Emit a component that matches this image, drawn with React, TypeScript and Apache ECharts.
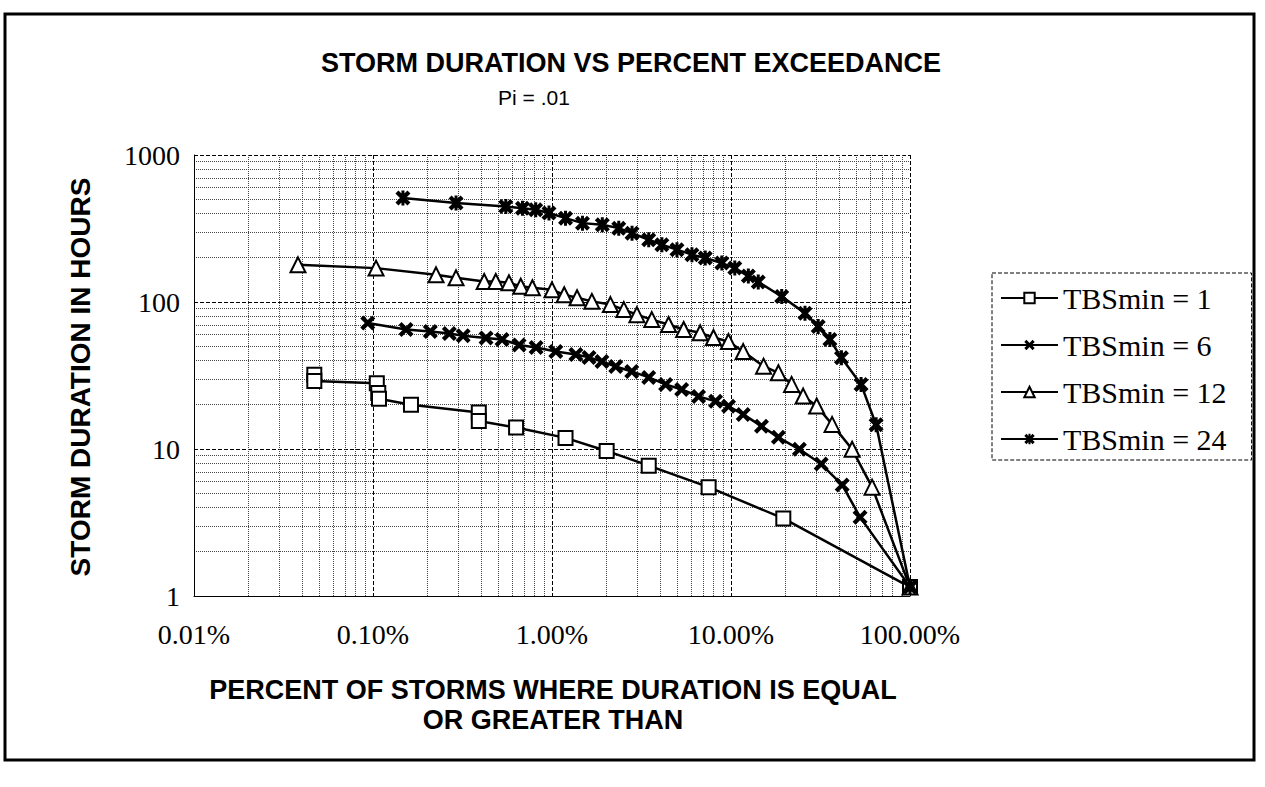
import React, { useEffect, useRef } from "react";
import * as echarts from "echarts";

const seriesNames = ["TBSmin = 1", "TBSmin = 6", "TBSmin = 12", "TBSmin = 24"];

// percent of storms (x) and storm duration in hours (y)
const tbs1Pct = [0.047, 0.047, 0.105, 0.107, 0.108, 0.163, 0.39, 0.39, 0.63, 1.19, 2.02, 3.47, 7.5, 19.6, 100];
const tbs1Hours = [32, 29, 28, 24, 22, 20, 17.7, 15.5, 14.0, 11.9, 9.7, 7.7, 5.5, 3.37, 1.15];

const tbs6Pct = [0.0935, 0.153, 0.209, 0.267, 0.319, 0.428, 0.526, 0.655, 0.815, 1.05, 1.36, 1.61, 1.9, 2.27, 2.79, 3.47, 4.31, 5.3, 6.59, 8.2, 9.69, 11.7, 14.8, 18.4, 24.1, 31.9, 41.8, 52.6, 100];
const tbs6Hours = [72, 65, 63, 61, 59, 57, 55.6, 51, 49, 46, 44, 42, 39.4, 36.4, 33.7, 30.7, 27.5, 25.4, 22.8, 21.1, 19.5, 17.2, 14.3, 12.0, 9.95, 7.9, 5.7, 3.44, 1.15];

const tbs12Pct = [0.0381, 0.104, 0.225, 0.291, 0.418, 0.485, 0.575, 0.669, 0.777, 1.0, 1.17, 1.38, 1.67, 2.12, 2.52, 2.98, 3.61, 4.48, 5.44, 6.73, 7.98, 9.68, 11.7, 15.2, 18.4, 21.8, 25.3, 30.1, 36.7, 47.5, 61.4, 100];
const tbs12Hours = [179, 170, 153, 146, 138, 138, 135, 128, 125, 121, 112, 107, 101, 96, 88.8, 82, 75.9, 70.3, 65, 61.7, 57.3, 53.8, 46, 36.6, 33, 27.5, 22.9, 19.6, 14.7, 9.95, 5.5, 1.15];

const tbs24Pct = [0.147, 0.291, 0.552, 0.684, 0.811, 0.962, 1.19, 1.48, 1.91, 2.36, 2.8, 3.47, 4.11, 4.99, 6.05, 7.18, 8.89, 10.5, 12.5, 14.2, 19.2, 25.9, 30.7, 35.7, 41.4, 53.3, 64.7, 100];
const tbs24Hours = [509, 471, 446, 435, 424, 403, 372, 344, 335, 318, 294, 265, 245, 227, 210, 199, 184, 170, 150, 137, 109, 84, 68, 55.6, 41.7, 27.5, 14.6, 1.15];

const title = "STORM DURATION VS PERCENT EXCEEDANCE";
const subtitle = "Pi = .01";
const yTitle = "STORM DURATION IN HOURS";
const xTitle1 = "PERCENT OF STORMS WHERE DURATION IS EQUAL";
const xTitle2 = "OR GREATER THAN";

const X_PATH = "path://M0,2L2,0L5,3L8,0L10,2L7,5L10,8L8,10L5,7L2,10L0,8L3,5Z";
const STAR_PATH = "path://M0,2L2,0L5,3L8,0L10,2L7,5L10,8L8,10L5,7L2,10L0,8L3,5ZM4,0L6,0L6,10L4,10Z";

const sans = '"Liberation Sans", Arial, sans-serif';
const serif = '"Liberation Serif", "Times New Roman", serif';

function pairs(xs: number[], ys: number[]) {
  return xs.map((x, i) => [x, ys[i]]);
}

export default function App() {
  const ref = useRef<HTMLDivElement>(null);
  useEffect(() => {
    document.body.style.margin = "0";
    const chart = echarts.init(ref.current!, undefined, { renderer: "svg" });
    const hollow = { color: "#fff", borderColor: "#000", borderWidth: 2 };
    const filled = { color: "#000", borderColor: "#000", borderWidth: 0 };
    const lineStyle = { color: "#000", width: 2.5 };
    const option: any = {
      animation: false,
      backgroundColor: "#fff",
      color: ["#000"],
      graphic: [
        {
          type: "rect",
          silent: true,
          shape: { x: 5, y: 14, width: 1249, height: 746 },
          style: { fill: "none", stroke: "#000", lineWidth: 3 },
        },
        {
          type: "text",
          x: 631,
          y: 63,
          style: { text: title, fontFamily: sans, fontWeight: "bold", fontSize: 27, fill: "#000", align: "center", verticalAlign: "middle" },
        },
        {
          type: "text",
          x: 534,
          y: 97,
          style: { text: subtitle, fontFamily: sans, fontSize: 21, fill: "#000", align: "center", verticalAlign: "middle" },
        },
        {
          type: "text",
          x: 80,
          y: 377,
          rotation: Math.PI / 2,
          style: { text: yTitle, fontFamily: sans, fontWeight: "bold", fontSize: 28, fill: "#000", align: "center", verticalAlign: "middle" },
        },
        {
          type: "text",
          x: 553,
          y: 690,
          style: { text: xTitle1, fontFamily: sans, fontWeight: "bold", fontSize: 27, fill: "#000", align: "center", verticalAlign: "middle" },
        },
        {
          type: "text",
          x: 553,
          y: 720,
          style: { text: xTitle2, fontFamily: sans, fontWeight: "bold", fontSize: 27, fill: "#000", align: "center", verticalAlign: "middle" },
        },
      ],
      grid: { left: 194, right: 355, top: 155, bottom: 191, containLabel: false },
      legend: {
        orient: "vertical",
        left: 992,
        top: 273,
        itemWidth: 57,
        itemHeight: 13,
        itemGap: 17,
        padding: [10, 25, 6, 8],
        borderColor: "#000",
        borderWidth: 1,
        borderType: "dashed",
        textStyle: { fontFamily: serif, fontSize: 30, lineHeight: 30, color: "#000" },
        data: seriesNames,
      },
      xAxis: {
        type: "log",
        logBase: 10,
        min: 0.01,
        max: 100,
        axisLine: { show: true, lineStyle: { color: "#000", width: 1 } },
        axisTick: { show: false },
        axisLabel: {
          formatter: (v: number) => v.toFixed(2) + "%",
          fontFamily: serif,
          fontSize: 28,
          color: "#000",
          margin: 24,
        },
        splitLine: { show: true, lineStyle: { color: "#000", type: "dashed", width: 1 } },
        minorTick: { show: false, splitNumber: 9 },
        minorSplitLine: { show: true, lineStyle: { color: "#444", type: "dotted", width: 1 } },
      },
      yAxis: {
        type: "log",
        logBase: 10,
        min: 1,
        max: 1000,
        axisLine: { show: true, lineStyle: { color: "#000", width: 1 } },
        axisTick: { show: false },
        axisLabel: {
          formatter: (v: number) => String(Math.round(v)),
          fontFamily: serif,
          fontSize: 28,
          color: "#000",
          margin: 14,
        },
        splitLine: { show: true, lineStyle: { color: "#000", type: "dashed", width: 1 } },
        minorTick: { show: false, splitNumber: 9 },
        minorSplitLine: { show: true, lineStyle: { color: "#444", type: "dotted", width: 1 } },
      },
      series: [
        { name: seriesNames[0], type: "line", symbol: "rect", symbolSize: 14, lineStyle, itemStyle: hollow, data: pairs(tbs1Pct, tbs1Hours) },
        { name: seriesNames[1], type: "line", symbol: X_PATH, symbolSize: 15, lineStyle, itemStyle: filled, data: pairs(tbs6Pct, tbs6Hours) },
        { name: seriesNames[2], type: "line", symbol: "triangle", symbolSize: 15, lineStyle, itemStyle: hollow, data: pairs(tbs12Pct, tbs12Hours) },
        { name: seriesNames[3], type: "line", symbol: STAR_PATH, symbolSize: 15, lineStyle, itemStyle: filled, data: pairs(tbs24Pct, tbs24Hours) },
      ],
    };
    chart.setOption(option);
    return () => chart.dispose();
  }, []);
  return <div ref={ref} style={{ width: 1265, height: 787 }} />;
}
